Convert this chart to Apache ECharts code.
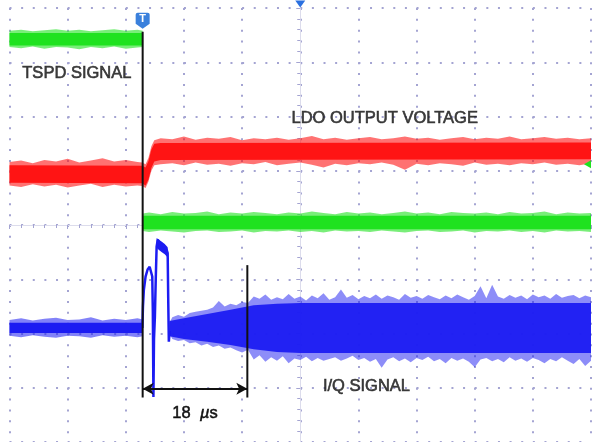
<!DOCTYPE html>
<html>
<head>
<meta charset="utf-8">
<script src="https://cdn.jsdelivr.net/npm/echarts@6/dist/echarts.min.js"></script>
<style>
  html, body { margin: 0; padding: 0; background: #ffffff; }
  #scope { width: 595px; height: 442px; }
</style>
</head>
<body>
<div id="scope"></div>
<script>
// Horizontal unit: microseconds (10 µs / division). Vertical unit: screen divisions.
const trigT = -27.1;     // trigger instant
const spanUs = 18;       // measured delay after trigger
const arrowV = -3.02;    // level of the measurement arrow

// TSPD signal, high state before the trigger
const gHiT       = [-50,-48,-46,-44,-42,-40,-38,-36,-34,-32,-30,-28,-27.1];
const gHiOutTop  = [3.58,3.60,3.57,3.59,3.61,3.58,3.60,3.57,3.59,3.61,3.58,3.60,3.58];
const gHiOutBot  = [3.28,3.26,3.29,3.25,3.28,3.27,3.24,3.28,3.26,3.29,3.25,3.27,3.28];
const gHiCoreT   = [-50,-27.1];
const gHiCoreTop = [3.54,3.54];
const gHiCoreBot = [3.31,3.31];

// TSPD signal, low state after the trigger
const gLoT = [-27.1,-26,-24,-22,-20,-18,-16,-14,-12,-10,-8,-6,-4,-2,0,2,4,6,8,10,12,14,16,18,20,22,24,26,28,30,32,34,36,38,40,42,44,46,48,50];
const gLoOutTop = [0.21,0.23,0.20,0.24,0.21,0.22,0.25,0.20,0.23,0.21,0.24,0.22,0.20,0.23,0.21,0.25,0.22,0.20,0.24,0.21,0.23,0.20,0.22,0.25,0.21,0.23,0.20,0.24,0.22,0.21,0.23,0.20,0.24,0.21,0.22,0.25,0.20,0.23,0.21,0.22];
const gLoOutBot = [-0.11,-0.13,-0.10,-0.12,-0.14,-0.11,-0.10,-0.13,-0.12,-0.10,-0.14,-0.11,-0.12,-0.10,-0.13,-0.11,-0.14,-0.10,-0.12,-0.11,-0.13,-0.10,-0.12,-0.14,-0.11,-0.10,-0.13,-0.12,-0.10,-0.14,-0.11,-0.12,-0.10,-0.13,-0.11,-0.14,-0.10,-0.12,-0.11,-0.13];
const gLoCoreT   = [-27.1,50];
const gLoCoreTop = [0.17,0.17];
const gLoCoreBot = [-0.08,-0.08];

// LDO output voltage
const redT = [-50,-48,-46,-44,-42,-40,-38,-36,-34,-32,-30,-28,-27.2,-26.6,-26.1,-25.6,-25.1,-24,-22,-20,-18,-16,-14,-12,-10,-8,-6,-4,-2,0,2,4,6,8,10,12,14,16,18,20,22,24,26,28,30,32,34,36,38,40,42,44,46,48,50];
const redOutTop = [1.16,1.19,1.14,1.20,1.17,1.22,1.15,1.19,1.23,1.17,1.20,1.16,
  1.15,1.12,1.24,1.45,1.56,
  1.60,1.58,1.63,1.57,1.61,1.59,1.62,1.56,1.60,1.58,1.61,1.57,1.60,1.64,1.58,1.61,1.57,1.60,1.62,1.58,1.60,1.63,1.59,1.61,1.57,1.60,1.62,1.58,1.61,1.59,1.63,1.58,1.60,1.62,1.59,1.61,1.58,1.60];
const redOutBot = [0.73,0.70,0.75,0.71,0.74,0.69,0.73,0.76,0.70,0.74,0.71,0.73,
  0.72,0.68,0.80,1.00,1.10,
  1.12,1.14,1.10,1.15,1.11,1.13,1.09,1.14,1.12,1.16,1.10,1.13,1.15,1.11,1.06,1.13,1.10,1.14,1.12,1.15,1.11,1.02,1.13,1.10,1.14,1.12,1.09,1.15,1.11,1.13,1.10,1.14,1.12,1.15,1.11,1.13,1.10,1.14];
const redCoreT   = [-50,-27.2,-26.6,-26.1,-25.6,-25.1,-24,50];
const redCoreTop = [1.10,1.09,1.06,1.18,1.39,1.50,1.51,1.52];
const redCoreBot = [0.78,0.77,0.73,0.84,1.05,1.17,1.20,1.21];

// I/Q signal, quiet part before the trigger
const bqT = [-50,-48,-46,-44,-42,-40,-38,-36,-34,-32,-30,-28,-27.1];
const bqOutTop = [-1.75,-1.72,-1.76,-1.73,-1.71,-1.75,-1.74,-1.70,-1.76,-1.73,-1.75,-1.72,-1.74];
const bqOutBot = [-2.04,-2.07,-2.03,-2.06,-2.08,-2.04,-2.05,-2.08,-2.03,-2.06,-2.04,-2.07,-2.05];
const bqCoreT   = [-50,-27.1];
const bqCoreTop = [-1.80,-1.80];
const bqCoreBot = [-1.99,-1.99];

// I/Q signal, the two pulses right after the trigger
const pulseT = [-27.15,-27.05,-26.9,-26.6,-26.25,-25.9,-25.6,-25.45,-25.35,-25.25,-25.15,-25.0,-24.85,-24.7,-24.5,-24.2,-23.8,-23.4,-23.0,-22.8,-22.7,-22.6,-22.45];
const pulseV = [-1.90,-1.50,-1.20,-0.95,-0.82,-0.77,-0.80,-0.95,-1.60,-3.17,-2.10,-1.70,-1.00,-0.40,-0.27,-0.33,-0.37,-0.40,-0.45,-0.52,-1.40,-2.15,-1.95];
const p2T   = [-24.7,-24.3,-23.8,-23.3,-22.8];
const p2Top = [-0.24,-0.27,-0.31,-0.35,-0.41];
const p2Bot = [-0.42,-0.46,-0.50,-0.54,-0.60];

// I/Q signal, noise after the pulses
const bnT = [-22.5,-22,-21,-20,-19,-18,-17,-16,-15,-14,-13,-12,-11,-10,-9,-8,-7,-6,-5,-4,-3,-2,-1,0,1,2,3,4,5,6,7,8,9,10,11,12,13,14,15,16,17,18,19,20,21,22,23,24,25,26,27,28,29,30,31,32,33,34,35,36,37,38,39,40,41,42,43,44,45,46,47,48,49,50];
const bnOutTop = [-1.80,-1.70,-1.66,-1.69,-1.62,-1.60,-1.58,-1.56,-1.52,-1.40,-1.50,-1.45,-1.48,-1.42,-1.44,-1.32,-1.36,-1.28,-1.38,-1.33,-1.37,-1.27,-1.36,-1.32,-1.39,-1.30,-1.35,-1.26,-1.38,-1.33,-1.19,-1.34,-1.29,-1.37,-1.31,-1.35,-1.28,-1.36,-1.30,-1.33,-1.38,-1.27,-1.34,-1.31,-1.36,-1.29,-1.33,-1.37,-1.30,-1.35,-1.28,-1.33,-1.38,-1.31,-1.13,-1.35,-1.10,-1.32,-1.36,-1.29,-1.34,-1.30,-1.37,-1.28,-1.33,-1.30,-1.36,-1.27,-1.34,-1.31,-1.29,-1.35,-1.30,-1.33];
const bnOutBot = [-2.00,-2.10,-2.14,-2.12,-2.18,-2.16,-2.22,-2.19,-2.25,-2.22,-2.28,-2.26,-2.31,-2.35,-2.30,-2.48,-2.40,-2.52,-2.44,-2.50,-2.42,-2.55,-2.46,-2.49,-2.43,-2.51,-2.45,-2.50,-2.47,-2.44,-2.50,-2.46,-2.41,-2.49,-2.45,-2.52,-2.47,-2.63,-2.48,-2.44,-2.51,-2.46,-2.53,-2.45,-2.49,-2.43,-2.51,-2.47,-2.55,-2.45,-2.50,-2.46,-2.52,-2.62,-2.48,-2.45,-2.51,-2.47,-2.53,-2.44,-2.50,-2.46,-2.52,-2.45,-2.49,-2.55,-2.47,-2.51,-2.44,-2.50,-2.56,-2.47,-2.60,-2.50];
const bnCoreT   = [-22.5,-20,-16,-12,-8,-4,0,50];
const bnCoreTop = [-1.77,-1.72,-1.64,-1.56,-1.48,-1.45,-1.44,-1.44];
const bnCoreBot = [-2.05,-2.10,-2.15,-2.21,-2.29,-2.34,-2.36,-2.36];

// Cursor bars (top, bottom) and annotation texts
const cursorTop = [3.56, -0.74];
const cursorBot = -3.18;
const noteText = ['TSPD SIGNAL', 'LDO OUTPUT VOLTAGE', 'I/Q SIGNAL'];
const noteT    = [-47.8, -1.5, 3.9];
const noteV    = [2.80, 1.97, -2.97];

const GREEN = '#1fe21f', RED = '#ff1414', BLUE = '#1c1cf2', INK = '#111111';
const GRID_DOT = '#a4a4d2';
const FONT = '"Liberation Sans", Arial, sans-serif';

// Filled trace band between an upper and a lower envelope
function band(t, top, bot, color, opacity, z) {
  return {
    type: 'custom', z: z, silent: true, clip: true,
    data: [[t[0], top[0]]],
    renderItem: function (params, api) {
      const pts = [];
      for (let i = 0; i < t.length; i++) pts.push(api.coord([t[i], top[i]]));
      for (let i = t.length - 1; i >= 0; i--) pts.push(api.coord([t[i], bot[i]]));
      return { type: 'polygon', shape: { points: pts }, style: { fill: color, opacity: opacity } };
    }
  };
}

const chart = echarts.init(document.getElementById('scope'), null, { renderer: 'canvas' });

const series = [
  band(gHiT, gHiOutTop, gHiOutBot, GREEN, 0.6, 2),
  band(gHiCoreT, gHiCoreTop, gHiCoreBot, GREEN, 1, 3),
  band(gLoT, gLoOutTop, gLoOutBot, GREEN, 0.6, 2),
  band(gLoCoreT, gLoCoreTop, gLoCoreBot, GREEN, 1, 3),
  band(redT, redOutTop, redOutBot, RED, 0.6, 2),
  band(redCoreT, redCoreTop, redCoreBot, RED, 1, 3),
  band(bqT, bqOutTop, bqOutBot, BLUE, 0.55, 2),
  band(bqCoreT, bqCoreTop, bqCoreBot, BLUE, 1, 3),
  band(bnT, bnOutTop, bnOutBot, BLUE, 0.5, 2),
  band(bnCoreT, bnCoreTop, bnCoreBot, BLUE, 0.95, 3),
  band(p2T, p2Top, p2Bot, BLUE, 1, 3),
  {
    type: 'line', z: 4, symbol: 'none', silent: true,
    data: pulseT.map((t, i) => [t, pulseV[i]]),
    lineStyle: { color: BLUE, width: 2.5 }
  },
  // trigger cursor with the trigger flag on top
  {
    type: 'line', z: 6, symbol: 'none', silent: true,
    data: [[trigT, cursorTop[0]], [trigT, cursorBot]],
    lineStyle: { color: INK, width: 2 },
    markPoint: {
      silent: true,
      data: [
        {
          coord: [trigT, cursorTop[0]],
          symbol: 'path://M2,0 H12 A2,2 0 0 1 14,2 V11 L7,16 L0,11 V2 A2,2 0 0 1 2,0 Z',
          symbolSize: [14, 16], symbolOffset: [0, -11],
          itemStyle: { color: '#3a80dc' },
          label: { show: true, formatter: 'T', color: '#ffffff', fontSize: 11, fontWeight: 'bold', fontFamily: FONT, offset: [0, -2] }
        },
        {
          coord: [0, 4],
          symbol: 'triangle', symbolRotate: 180, symbolSize: [10, 7], symbolOffset: [0, -4],
          itemStyle: { color: '#2a70e0' }, label: { show: false }
        },
        {
          coord: [49.4, 1.12],
          symbol: 'triangle', symbolRotate: 90, symbolSize: [8, 7],
          itemStyle: { color: GREEN }, label: { show: false }
        }
      ]
    }
  },
  // second cursor and the delay arrow between both cursors
  {
    type: 'line', z: 6, symbol: 'none', silent: true,
    data: [[trigT + spanUs, cursorTop[1]], [trigT + spanUs, cursorBot]],
    lineStyle: { color: INK, width: 2 },
    markLine: {
      silent: true, animation: false,
      symbol: ['arrow', 'arrow'], symbolSize: [9, 11],
      lineStyle: { color: INK, width: 2, type: 'solid' },
      label: {
        show: true, position: 'insideMiddleBottom', distance: 16,
        formatter: '{n|' + spanUs + '  }{u|µ}{n|s}',
        rich: {
          n: { fontSize: 16.5, color: INK, fontFamily: FONT, textBorderColor: INK, textBorderWidth: 0.5 },
          u: { fontSize: 16.5, color: INK, fontFamily: FONT, fontStyle: 'italic', textBorderColor: INK, textBorderWidth: 0.5 }
        }
      },
      data: [[{ coord: [trigT, arrowV] }, { coord: [trigT + spanUs, arrowV] }]]
    }
  },
  // channel annotations
  {
    type: 'scatter', z: 7, symbolSize: 0, silent: true,
    data: noteText.map((s, i) => ({ value: [noteT[i], noteV[i]], name: s })),
    label: {
      show: true, position: [0, 0], align: 'left', verticalAlign: 'middle',
      formatter: p => p.name, color: INK, fontSize: 16.5, fontFamily: FONT,
      textBorderColor: INK, textBorderWidth: 0.6
    }
  }
];

chart.setOption({
  animation: false,
  backgroundColor: '#ffffff',
  grid: { left: 9.5, right: 4, top: 8, bottom: 0, containLabel: false },
  xAxis: {
    type: 'value', min: -50, max: 50, interval: 10,
    axisLabel: { show: false },
    axisLine: { show: true, onZero: true, lineStyle: { color: '#dcdcec', width: 1 } },
    axisTick: { show: true, length: 4, lineStyle: { color: GRID_DOT } },
    minorTick: { show: true, splitNumber: 5, length: 3, lineStyle: { color: GRID_DOT } },
    splitLine: { show: true, lineStyle: { color: GRID_DOT, width: 2, type: [2, 8.85] } }
  },
  yAxis: {
    type: 'value', min: -4, max: 4, interval: 1,
    axisLabel: { show: false },
    axisLine: { show: true, onZero: true, lineStyle: { color: '#dcdcec', width: 1 } },
    axisTick: { show: true, length: 4, lineStyle: { color: GRID_DOT } },
    minorTick: { show: true, splitNumber: 5, length: 3, lineStyle: { color: GRID_DOT } },
    splitLine: { show: true, lineStyle: { color: GRID_DOT, width: 2, type: [2, 9.63] } }
  },
  series: series
});
</script>
</body>
</html>
